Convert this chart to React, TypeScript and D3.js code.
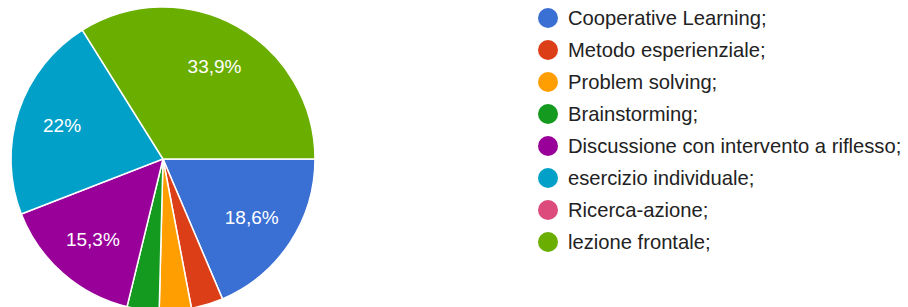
import React from 'react';
import * as d3 from 'd3';

const categories = [
  'Cooperative Learning;',
  'Metodo esperienziale;',
  'Problem solving;',
  'Brainstorming;',
  'Discussione con intervento a riflesso;',
  'esercizio individuale;',
  'Ricerca-azione;',
  'lezione frontale;',
];
const percentages = [18.6, 3.4, 3.4, 3.4, 15.3, 22, 0, 33.9];
const colors = ['#3a6fd3', '#dc3f18', '#ff9e00', '#139a1f', '#990099', '#01a0c9', '#dd4b7c', '#6aae00'];

const W = 908;
const H = 307;
const cx = 163;
const cy = 159;
const radius = 152;

function fmt(v: number) {
  return (v % 1 === 0 ? String(v) : v.toFixed(1).replace('.', ',')) + '%';
}

export default function App() {
  const data = categories.map((c, i) => ({ name: c, value: percentages[i], color: colors[i] }));

  const pie = d3.pie<any>()
    .sort(null)
    .value(d => d.value)
    .startAngle(Math.PI / 2)
    .endAngle(Math.PI / 2 + 2 * Math.PI);
  const arcs = pie(data);

  const arc = d3.arc<any>().innerRadius(0).outerRadius(radius);
  const labelArc = d3.arc<any>().innerRadius(radius * 0.7).outerRadius(radius * 0.7);

  const legendY = d3.scalePoint<string>()
    .domain(categories)
    .range([18, 242]);

  return (
    <div style={{ position: 'absolute', left: 0, top: 0 }}>
      <svg width={W} height={H} style={{ display: 'block', background: '#fff' }}
        fontFamily="Arial, 'Liberation Sans', sans-serif">
        <g transform={`translate(${cx},${cy})`}>
          {arcs.filter(a => a.data.value > 0).map((a, i) => (
            <path key={i} d={arc(a) || ''} fill={a.data.color} stroke="#fff" strokeWidth={1.5} />
          ))}
          {arcs.filter(a => a.data.value >= 5).map((a, i) => {
            const [lx, ly] = labelArc.centroid(a);
            return (
              <text key={i} x={lx} y={ly} dy="0.35em" textAnchor="middle" fill="#fff" fontSize={19}>
                {fmt(a.data.value)}
              </text>
            );
          })}
        </g>
        <g>
          {data.map((d, i) => (
            <g key={i} transform={`translate(548,${legendY(d.name)})`}>
              <circle r={10} fill={d.color} />
              <text x={20} dy="0.35em" fontSize={20.2} fill="#222">{d.name}</text>
            </g>
          ))}
        </g>
      </svg>
    </div>
  );
}
